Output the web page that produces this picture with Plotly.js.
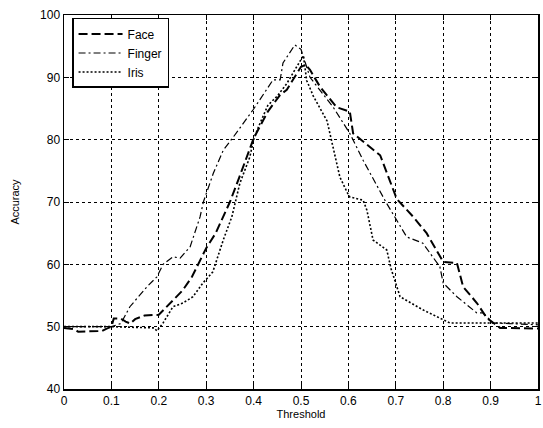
<!DOCTYPE html>
<html>
<head>
<meta charset="utf-8">
<script src="https://cdn.plot.ly/plotly-3.0.1.min.js"></script>
<style>html,body{margin:0;padding:0;background:#fff}#chart{width:543px;height:428px}</style>
</head>
<body>
<div id="chart"></div>
<script>
const faceX = [0, 0.02, 0.03, 0.08, 0.09, 0.1, 0.105, 0.12, 0.13, 0.14, 0.15, 0.17, 0.2, 0.22, 0.25, 0.27, 0.29, 0.3, 0.32, 0.35, 0.37, 0.4, 0.43, 0.456, 0.47, 0.5, 0.51, 0.519, 0.54, 0.575, 0.603, 0.61, 0.667, 0.702, 0.737, 0.765, 0.8, 0.829, 0.842, 0.871, 0.892, 0.92, 1];
const faceY = [49.8, 49.6, 49.2, 49.3, 49.7, 50, 51.3, 51.3, 50.8, 50.5, 51.2, 51.8, 51.9, 53.5, 55.8, 58, 61, 62.6, 65, 70, 74, 80.2, 84.5, 87.2, 88, 91.7, 92, 91.2, 88.5, 85.2, 84.5, 81, 77.5, 70.5, 67.6, 65, 60.4, 60.2, 56.4, 53.8, 51.4, 49.8, 49.7];

const fingerX = [0, 0.1, 0.12, 0.139, 0.175, 0.196, 0.209, 0.23, 0.245, 0.266, 0.287, 0.294, 0.315, 0.336, 0.357, 0.399, 0.441, 0.456, 0.462, 0.487, 0.5, 0.519, 0.568, 0.603, 0.631, 0.679, 0.723, 0.757, 0.793, 0.8, 0.829, 0.871, 0.884, 0.905, 1];
const fingerY = [50, 50, 50.5, 53.2, 56.4, 58, 60, 61.2, 61, 62.8, 67.6, 70, 74.6, 78.3, 80.4, 84.8, 89.6, 89.6, 92.3, 95.2, 94.5, 90, 85.2, 81, 76.7, 70, 64.4, 63.4, 59.6, 57, 54.8, 52.2, 52.2, 50.6, 50.3];

const irisX = [0, 0.1, 0.19, 0.196, 0.209, 0.23, 0.251, 0.272, 0.293, 0.314, 0.336, 0.354, 0.371, 0.392, 0.4, 0.41, 0.43, 0.45, 0.47, 0.49, 0.505, 0.512, 0.526, 0.555, 0.582, 0.597, 0.603, 0.631, 0.639, 0.652, 0.681, 0.69, 0.709, 0.757, 0.814, 1];
const irisY = [50, 50, 49.8, 49.3, 50.6, 53.2, 53.8, 54.8, 57, 58.8, 63.9, 67.6, 73, 77.2, 80, 82, 85.5, 87, 89, 91.5, 93.5, 89.5, 87, 83, 74, 71.6, 70.8, 70.3, 68.7, 63.9, 62.3, 59.3, 54.8, 52.7, 50.6, 50.6];

const xTicks = [0, 0.1, 0.2, 0.3, 0.4, 0.5, 0.6, 0.7, 0.8, 0.9, 1];
const xTickText = ['0', '0.1', '0.2', '0.3', '0.4', '0.5', '0.6', '0.7', '0.8', '0.9', '1'];
const yTicks = [40, 50, 60, 70, 80, 90, 100];

const font = 'Liberation Sans, Arial, sans-serif';

const traces = [
  {x: faceX, y: faceY, name: 'Face', mode: 'lines', line: {color: '#000', width: 2, dash: '9px,4px'}},
  {x: fingerX, y: fingerY, name: 'Finger', mode: 'lines', line: {color: '#000', width: 1.2, dash: '7px,3px,2px,3px'}},
  {x: irisX, y: irisY, name: 'Iris', mode: 'lines', line: {color: '#000', width: 1.6, dash: '2px,2px'}}
];

const axisCommon = {
  showline: true, linecolor: '#000', linewidth: 1.5, mirror: 'ticks',
  ticks: 'inside', ticklen: 5, tickcolor: '#000',
  showgrid: true, gridcolor: '#000', gridwidth: 1, griddash: '3px,3px',
  zeroline: false, tickfont: {family: font, size: 12, color: '#000'}
};

const layout = {
  width: 543, height: 428,
  margin: {l: 64, r: 5, t: 15, b: 39},
  paper_bgcolor: '#fff', plot_bgcolor: '#fff',
  showlegend: true,
  legend: {x: 0.017, y: 0.992, xanchor: 'left', yanchor: 'top', bordercolor: '#000', borderwidth: 1.5, bgcolor: '#fff',
           itemwidth: 44, font: {family: font, size: 12, color: '#000'}, tracegroupgap: 0},
  xaxis: Object.assign({}, axisCommon, {range: [0, 1], tickvals: xTicks, ticktext: xTickText,
          title: {text: 'Threshold', font: {family: font, size: 11, color: '#000'}, standoff: 0}}),
  yaxis: Object.assign({}, axisCommon, {range: [40, 100], tickvals: yTicks,
          title: {text: 'Accuracy', font: {family: font, size: 11, color: '#000'}, standoff: 18}})
};

Plotly.newPlot('chart', traces, layout, {displayModeBar: false, staticPlot: true});
</script>
</body>
</html>
